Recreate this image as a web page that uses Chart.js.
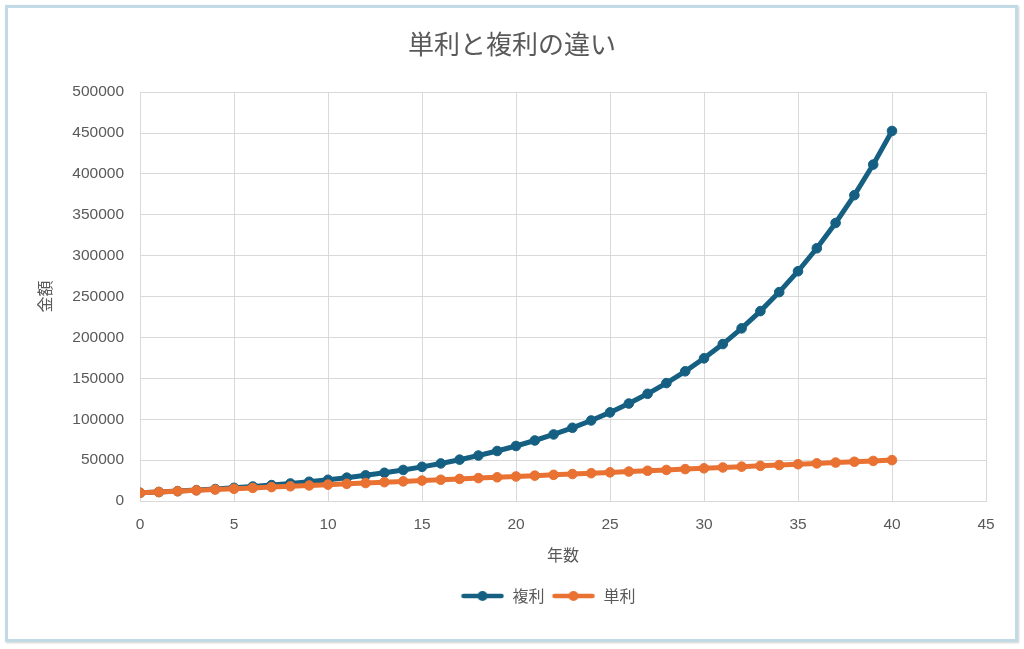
<!DOCTYPE html>
<html>
<head>
<meta charset="utf-8">
<script src="https://cdn.jsdelivr.net/npm/chart.js@4.4.1/dist/chart.umd.min.js"></script>
<style>
  html, body { margin: 0; padding: 0; background: #ffffff; }
  #frame { position: absolute; left: 5px; top: 5px; width: 1007px; height: 631px;
           border: 3px solid #c2dae6; box-shadow: 1px 1px 2px rgba(120,120,120,0.35); background: #fff; }
  #c { position: absolute; left: 0; top: 0; }
</style>
</head>
<body>
<div id="frame"></div>
<canvas id="c" width="1024" height="649"></canvas>
<script>
const chartTitle = '単利と複利の違い';
const xTitle = '年数';
const yTitle = '金額';
const seriesNames = ['複利', '単利'];
const years = [0,1,2,3,4,5,6,7,8,9,10,11,12,13,14,15,16,17,18,19,20,21,22,23,24,25,26,27,28,29,30,31,32,33,34,35,36,37,38,39,40];
const compound = [10000,11000,12100,13310,14641,16105,17716,19487,21436,23579,25937,28531,31384,34523,37975,41772,45950,50545,55599,61159,67275,74002,81403,89543,98497,108347,119182,131100,144210,158631,174494,191943,211138,232252,255477,281024,309127,340039,374043,411448,452593];
const simple = [10000,11000,12000,13000,14000,15000,16000,17000,18000,19000,20000,21000,22000,23000,24000,25000,26000,27000,28000,29000,30000,31000,32000,33000,34000,35000,36000,37000,38000,39000,40000,41000,42000,43000,44000,45000,46000,47000,48000,49000,50000];

const BLUE = '#156082';
const ORANGE = '#e97132';
const GRAY = '#595959';
const GRID = '#d9d9d9';
const NUMFONT = "'Liberation Sans', Arial, sans-serif";
const JPFONT = "'Noto Sans CJK JP', 'Noto Sans', sans-serif";

function legendIcon(color) {
  const cv = document.createElement('canvas');
  cv.width = 44; cv.height = 12;
  const g = cv.getContext('2d');
  g.strokeStyle = color; g.lineWidth = 4.5; g.lineCap = 'round';
  g.beginPath(); g.moveTo(3, 6); g.lineTo(41, 6); g.stroke();
  g.fillStyle = color;
  g.beginPath(); g.arc(22, 6, 5, 0, Math.PI * 2); g.fill();
  return cv;
}
const icons = [legendIcon(BLUE), legendIcon(ORANGE)];

function pts(vals) { return years.map((y, i) => ({x: y, y: vals[i]})); }

const shiftBoxes = {
  id: 'shiftBoxes',
  afterLayout(chart) {
    const lg = chart.legend;
    if (lg) { lg.left += 55; lg.right += 55; }
    const tb = chart.titleBlock;
    if (tb) { tb.left += 19; tb.right += 19; }
  }
};

new Chart(document.getElementById('c'), {
  type: 'line',
  data: {
    datasets: [
      { label: seriesNames[1], data: pts(simple), borderColor: ORANGE, backgroundColor: ORANGE,
        pointBackgroundColor: ORANGE, pointBorderColor: ORANGE, borderWidth: 5, pointRadius: 4.8, pointBorderWidth: 1, tension: 0, _icon: 1 },
      { label: seriesNames[0], data: pts(compound), borderColor: BLUE, backgroundColor: BLUE,
        pointBackgroundColor: BLUE, pointBorderColor: BLUE, borderWidth: 5, pointRadius: 4.8, pointBorderWidth: 1, tension: 0, _icon: 0 }
    ]
  },
  plugins: [shiftBoxes],
  options: {
    responsive: false,
    animation: false,
    devicePixelRatio: 1,
    layout: { padding: { left: 0, right: 38, top: 0, bottom: 35 } },
    plugins: {
      title: { display: true, text: chartTitle, color: GRAY,
               font: { family: JPFONT, size: 26, weight: 'normal' },
               padding: { top: 29, bottom: 32 } },
      legend: {
        display: true, position: 'bottom',
        labels: {
          color: GRAY, font: { family: JPFONT, size: 16 },
          usePointStyle: true, pointStyleWidth: 44, padding: 7,
          generateLabels(chart) {
            return chart.data.datasets.map((ds, i) => ({
              text: ds.label, fillStyle: ds.borderColor, strokeStyle: ds.borderColor,
              lineWidth: 0, pointStyle: icons[ds._icon], datasetIndex: i, hidden: false, fontColor: GRAY
            })).sort((a, b) => b.datasetIndex - a.datasetIndex);
          }
        }
      },
      tooltip: { enabled: false }
    },
    scales: {
      x: {
        type: 'linear', min: 0, max: 45,
        ticks: { stepSize: 5, color: GRAY, font: { family: NUMFONT, size: 15.5 }, padding: 14, maxRotation: 0 },
        grid: { color: GRID, lineWidth: 1, drawTicks: false },
        border: { color: GRID, width: 1 },
        title: { display: true, text: xTitle, color: GRAY, font: { family: JPFONT, size: 16 }, padding: { top: 0, bottom: 16 } },
        afterFit(s) { s.height = 80; }
      },
      y: {
        min: 0, max: 500000,
        ticks: { stepSize: 50000, color: GRAY, font: { family: NUMFONT, size: 15.5 }, padding: 16,
                 callback: v => String(v) },
        grid: { color: GRID, lineWidth: 1, drawTicks: false },
        border: { color: GRID, width: 1 },
        title: { display: true, text: yTitle, color: GRAY, font: { family: JPFONT, size: 16 }, padding: { top: 35, bottom: 0 } },
        afterFit(s) { s.width = 140; }
      }
    }
  }
});
</script>
</body>
</html>
